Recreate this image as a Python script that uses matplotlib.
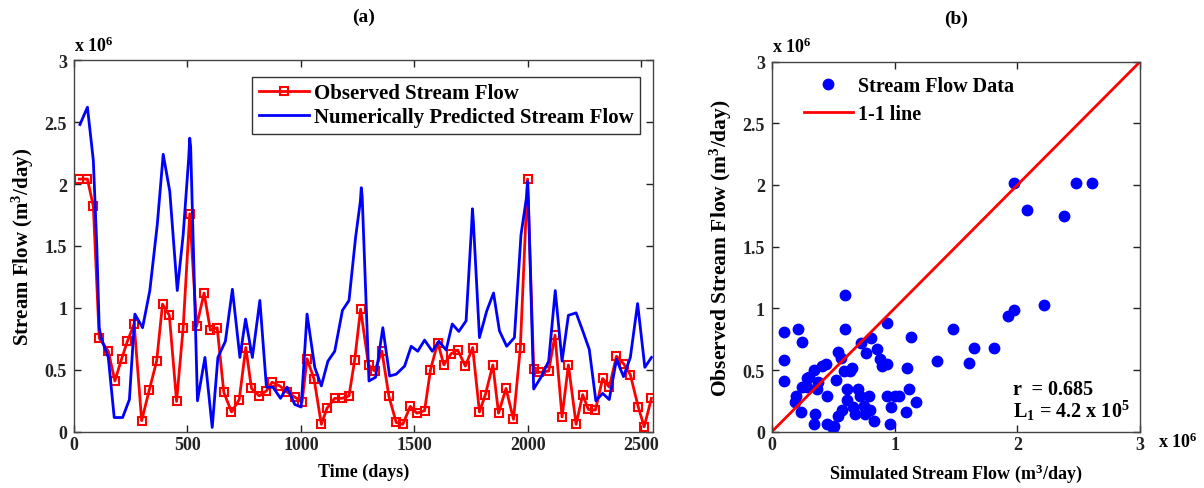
import matplotlib
matplotlib.use("Agg")
import matplotlib.pyplot as plt

plt.rcParams['font.family'] = ['Liberation Serif', 'DejaVu Serif']
plt.rcParams['font.weight'] = 'bold'
plt.rcParams['mathtext.fontset'] = 'custom'
plt.rcParams['mathtext.rm'] = 'Liberation Serif:bold'
plt.rcParams['mathtext.it'] = 'Liberation Serif:bold:italic'
plt.rcParams['mathtext.bf'] = 'Liberation Serif:bold'
plt.rcParams['mathtext.default'] = 'rm'

# observed stream flow (x 10^6 m3/day), monthly samples
obs_days = [23, 59, 85, 111, 151, 180, 210, 235, 265, 298, 332, 364, 390, 420, 452, 481,
            510, 540, 573, 601, 631, 660, 694, 728, 757, 782, 816, 848, 873, 907, 939, 973,
            1005, 1027, 1058, 1090, 1115, 1149, 1181, 1212, 1237, 1263, 1298, 1325, 1357, 1388,
            1420, 1449, 1482, 1511, 1545, 1571, 1603, 1630, 1662, 1691, 1725, 1757, 1787, 1813,
            1846, 1871, 1904, 1937, 1967, 1999, 2026, 2051, 2092, 2120, 2151, 2179, 2213, 2242,
            2267, 2298, 2330, 2359, 2391, 2422, 2452, 2487, 2513, 2545]
obs_flow = [2.04, 2.04, 1.82, 0.755, 0.65, 0.41, 0.59, 0.73, 0.87, 0.09, 0.34, 0.57, 1.03, 0.94,
            0.245, 0.84, 1.76, 0.85, 1.12, 0.82, 0.84, 0.32, 0.16, 0.26, 0.68, 0.35, 0.29, 0.33,
            0.40, 0.37, 0.32, 0.28, 0.24, 0.59, 0.425, 0.06, 0.19, 0.27, 0.27, 0.29, 0.58, 0.99,
            0.54, 0.49, 0.65, 0.285, 0.075, 0.06, 0.205, 0.15, 0.17, 0.50, 0.72, 0.54, 0.63, 0.66,
            0.53, 0.68, 0.16, 0.30, 0.54, 0.15, 0.35, 0.10, 0.675, 2.04, 0.505, 0.48, 0.49, 0.78,
            0.12, 0.54, 0.06, 0.30, 0.18, 0.175, 0.43, 0.36, 0.61, 0.55, 0.46, 0.20, 0.04, 0.27]

# numerically predicted stream flow (x 10^6 m3/day)
pred_days = [26, 59, 85, 100, 111, 119, 151, 177, 214, 244, 268, 302, 334, 367, 393, 422, 455,
             481, 505, 510, 514, 544, 577, 609, 634, 667, 698, 731, 756, 786, 819, 848, 877, 910,
             939, 973, 1001, 1027, 1061, 1090, 1119, 1149, 1183, 1212, 1241, 1262, 1266, 1270,
             1300, 1329, 1361, 1391, 1420, 1457, 1486, 1515, 1545, 1579, 1608, 1640, 1667, 1696,
             1728, 1752, 1756, 1760, 1787, 1819, 1849, 1875, 1907, 1941, 1970, 1995, 1999, 2003,
             2026, 2058, 2092, 2121, 2151, 2179, 2213, 2242, 2271, 2300, 2330, 2359, 2391, 2422,
             2452, 2484, 2516, 2545]
pred_flow = [2.48, 2.62, 2.19, 1.51, 0.84, 0.76, 0.60, 0.115, 0.115, 0.26, 0.95, 0.84, 1.14,
             1.675, 2.24, 1.94, 1.14, 1.59, 2.20, 2.37, 2.30, 0.25, 0.60, 0.035, 0.60, 0.73, 1.15,
             0.60, 0.91, 0.60, 1.06, 0.36, 0.36, 0.27, 0.36, 0.22, 0.20, 0.95, 0.52, 0.37, 0.57,
             0.65, 0.98, 1.06, 1.57, 1.86, 1.97, 1.90, 0.41, 0.44, 0.84, 0.45, 0.465, 0.53, 0.69,
             0.65, 0.74, 0.65, 0.73, 0.66, 0.87, 0.81, 0.895, 1.65, 1.80, 1.70, 0.76, 0.975, 1.12,
             0.815, 0.69, 0.76, 1.59, 1.90, 2.02, 1.85, 0.345, 0.44, 0.57, 1.14, 0.57, 0.94, 0.96,
             0.815, 0.665, 0.25, 0.31, 0.26, 0.585, 0.445, 0.60, 1.035, 0.52, 0.60]

# scatter: simulated vs observed (x 10^6 m3/day)
sim_sc = [0.10, 0.21, 0.245, 0.10, 0.10, 0.245, 0.20, 0.19, 0.24, 0.285, 0.34, 0.29, 0.37, 0.345,
          0.41, 0.44, 0.30, 0.45, 0.45, 0.52, 0.51, 0.54, 0.56, 0.60, 0.60, 0.59, 0.57, 0.54, 0.61,
          0.61, 0.64, 0.65, 0.665, 0.68, 0.70, 0.72, 0.73, 0.75, 0.76, 0.77, 0.795, 0.81, 0.80,
          0.83, 0.86, 0.88, 0.90, 0.94, 0.94, 0.94, 0.96, 0.97, 1.00, 1.04, 1.10, 1.095, 1.12,
          1.135, 1.175, 1.345, 1.475, 1.61, 1.65, 1.81, 1.92, 1.975, 2.22, 1.975, 2.08, 2.38,
          2.48, 2.61, 0.38, 0.50, 0.35]
obs_sc = [0.81, 0.83, 0.73, 0.58, 0.41, 0.365, 0.29, 0.24, 0.16, 0.435, 0.50, 0.365, 0.35, 0.06,
          0.535, 0.55, 0.44, 0.29, 0.06, 0.42, 0.05, 0.65, 0.60, 1.11, 0.83, 0.49, 0.18, 0.13,
          0.35, 0.26, 0.49, 0.52, 0.20, 0.14, 0.35, 0.29, 0.72, 0.21, 0.14, 0.64, 0.29, 0.76,
          0.18, 0.09, 0.67, 0.59, 0.535, 0.55, 0.88, 0.29, 0.06, 0.20, 0.29, 0.29, 0.52, 0.16,
          0.35, 0.765, 0.24, 0.57, 0.83, 0.56, 0.68, 0.68, 0.94, 0.99, 1.03, 2.02, 1.80, 1.75,
          2.02, 2.02, 0.40, 0.03, 0.14]
one_line = [0, 3]

fig = plt.figure(figsize=(12.04, 4.89), dpi=100)
ax1 = fig.add_axes([0.0615, 0.115, 0.4805, 0.76])
ax2 = fig.add_axes([0.641, 0.115, 0.306, 0.757])

# ---- panel (a): time series
ax1.plot(obs_days, obs_flow, color='red', lw=2, marker='s', ms=5.5, mfc='none', mew=1.5,
         label='Observed Stream Flow')
ax1.plot(pred_days, pred_flow, color='blue', lw=2, label='Numerically Predicted Stream Flow')
ax1.set_xlim(0, 2550)
ax1.set_ylim(0, 3)
ax1.set_xticks([0, 500, 1000, 1500, 2000, 2500])
ax1.set_yticks([0, 0.5, 1, 1.5, 2, 2.5, 3])
ax1.set_yticklabels(['0', '0.5', '1', '1.5', '2', '2.5', '3'])
ax1.set_xlabel('Time (days)', fontsize=13, fontweight='bold', labelpad=7)
ax1.set_ylabel('Stream Flow (m$^{3}$/day)', fontsize=15, fontweight='bold', labelpad=6)
ax1.set_title('(a)', fontsize=14, fontweight='bold', pad=28)
ax1.text(0.0, 1.015, 'x 10$^{6}$', transform=ax1.transAxes, fontsize=13, ha='left', va='bottom')
leg = ax1.legend(loc='upper right', bbox_to_anchor=(0.978, 0.955), fontsize=15, fancybox=False,
                 framealpha=1, edgecolor='#333333', handlelength=2.4, handletextpad=0.25,
                 borderpad=0.3, labelspacing=0.2, borderaxespad=0)
leg.get_frame().set_linewidth(1.0)

# ---- panel (b): scatter
ax2.plot(sim_sc, obs_sc, 'o', color='blue', ms=7.5, label='Stream Flow Data')
ax2.plot(one_line, one_line, color='red', lw=2, label='1-1 line')
ax2.set_xlim(0, 3)
ax2.set_ylim(0, 3)
ax2.set_xticks([0, 1, 2, 3])
ax2.set_yticks([0, 0.5, 1, 1.5, 2, 2.5, 3])
ax2.set_yticklabels(['0', '0.5', '1', '1.5', '2', '2.5', '3'])
ax2.set_xlabel('Simulated Stream Flow (m$^{3}$/day)', fontsize=13, fontweight='bold', labelpad=6)
ax2.set_ylabel('Observed Stream Flow (m$^{3}$/day)', fontsize=15.5, fontweight='bold', labelpad=6)
ax2.set_title('(b)', fontsize=14, fontweight='bold', pad=28)
ax2.text(0.0, 1.015, 'x 10$^{6}$', transform=ax2.transAxes, fontsize=13, ha='left', va='bottom')
ax2.text(1.049, 0.0, 'x 10$^{6}$', transform=ax2.transAxes, fontsize=13, ha='left', va='top')
ax2.legend(loc='upper left', bbox_to_anchor=(0.088, 0.962), fontsize=14.5, frameon=False,
           handlelength=2.4, handletextpad=0.25, labelspacing=0.42, borderpad=0,
           borderaxespad=0)
ax2.text(0.655, 0.115, 'r  = 0.685', transform=ax2.transAxes, fontsize=14.5, va='center')
ax2.text(0.655, 0.058, 'L$_{1}$ = 4.2 x 10$^{5}$', transform=ax2.transAxes, fontsize=14.5,
         va='center')

for ax in (ax1, ax2):
    ax.tick_params(direction='in', top=True, right=True, length=5, width=1,
                   labelsize=13, colors='#222222')
    ax.tick_params(axis='x', pad=3)
    ax.tick_params(axis='y', pad=5)
    for lab in ax.get_xticklabels() + ax.get_yticklabels():
        lab.set_fontweight('bold')
    for sp in ax.spines.values():
        sp.set_color('#444444')
        sp.set_linewidth(1.0)

fig.savefig('out.png', dpi=100)
